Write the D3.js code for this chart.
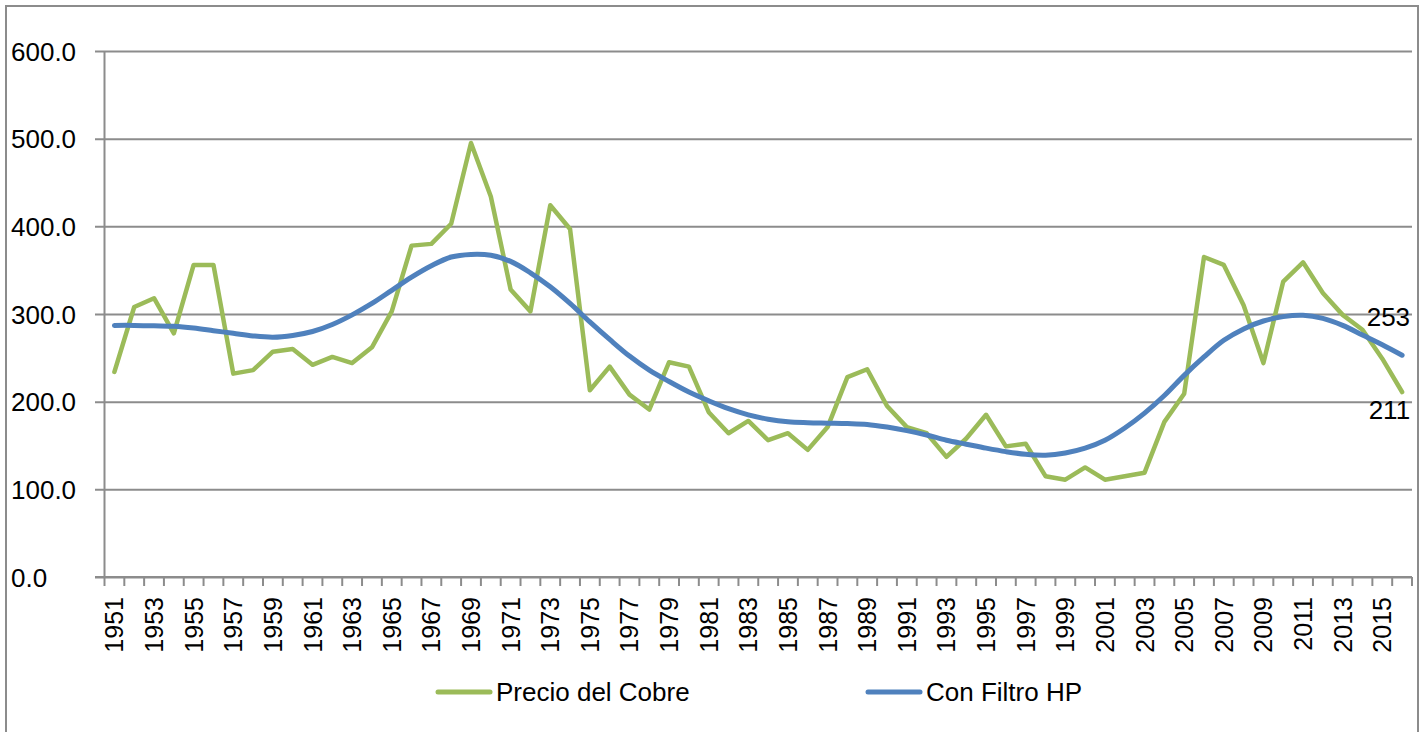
<!DOCTYPE html>
<html>
<head>
<meta charset="utf-8">
<script src="https://cdn.jsdelivr.net/npm/d3@7/dist/d3.min.js"></script>
<style>
  html, body { margin: 0; padding: 0; background: #fff; }
  svg { display: block; }
  text { font-family: "Liberation Sans", Arial, sans-serif; fill: #000; }
</style>
</head>
<body>
<svg id="chart" width="1428" height="732"></svg>
<script>
const years = d3.range(1951, 2017);
const precioCobre = [
  234, 308, 318, 278, 356, 356, 232, 236, 257, 260,
  242, 251, 244, 262, 303, 378, 380, 403, 495, 434,
  328, 303, 424, 397, 213, 240, 208, 191, 245, 240,
  188, 164, 178, 156, 164, 145, 171, 228, 237, 195,
  171, 164, 137, 158, 185, 149, 152, 115, 111, 125,
  111, 115, 119, 177, 209, 365, 356, 310, 244, 337,
  359, 324, 299, 282, 249, 211
];
const filtroHP = [
  287, 287, 286.5, 286, 284, 281, 278, 275, 273.5, 275.5,
  280, 288, 299, 312, 327, 342, 355, 365, 368, 367,
  360, 347, 331, 312, 291, 271, 252, 236, 223, 211,
  201, 192, 185, 180, 177, 176, 175.5, 175, 174, 171,
  167, 162, 156, 151.5, 147, 143, 140, 139, 141.5, 147,
  156, 170, 187, 207, 230, 251, 270, 283, 292, 297,
  298.5, 295, 287, 276, 265, 253
];
const yTicks = [0, 100, 200, 300, 400, 500, 600];
const seriesNames = ["Precio del Cobre", "Con Filtro HP"];
const endLabels = ["253", "211"];

const green = "#9BBB59", blue = "#4F81BD", grid = "#8C8C8C";
const svg = d3.select("#chart");

// outer border
svg.append("rect").attr("x", 6).attr("y", 6).attr("width", 1412).attr("height", 760)
  .attr("fill", "none").attr("stroke", grid).attr("stroke-width", 2);

const x = d3.scaleBand().domain(years).range([104.5, 1412]).padding(0);
const y = d3.scaleLinear().domain([0, 600]).range([577, 51]);
const cx = d => x(d) + x.bandwidth() / 2;

// gridlines + y axis
const yAxis = svg.append("g").attr("transform", "translate(104.5,0)")
  .call(d3.axisLeft(y).tickValues(yTicks).tickFormat(d3.format(".1f")).tickSize(0));
yAxis.select(".domain").remove();
yAxis.selectAll(".tick").append("line")
  .attr("x1", -9.5).attr("x2", 1412 - 104.5)
  .attr("stroke", grid).attr("stroke-width", 2);
yAxis.selectAll(".tick text")
  .attr("x", 11 - 104.5).attr("text-anchor", "start")
  .attr("dy", "0.35em").style("font-size", "26px");

svg.append("line").attr("x1", 104.5).attr("x2", 104.5).attr("y1", 51).attr("y2", 577)
  .attr("stroke", grid).attr("stroke-width", 2);

// x axis
const xAxis = svg.append("g").attr("transform", "translate(0,577)")
  .call(d3.axisBottom(x).tickValues(years.filter((d, i) => i % 2 === 0)).tickSize(0));
xAxis.select(".domain").remove();
xAxis.selectAll(".tick text")
  .attr("transform", "rotate(-90)")
  .attr("x", -20).attr("y", 0).attr("dy", "0.36em")
  .attr("text-anchor", "end").style("font-size", "25px");
svg.append("line").attr("x1", 95).attr("x2", 1412).attr("y1", 577).attr("y2", 577)
  .attr("stroke", grid).attr("stroke-width", 2);
const boundaries = years.map(d => x(d)).concat([x.range()[1]]);
svg.append("g").selectAll("line").data(boundaries).join("line")
  .attr("x1", d => d).attr("x2", d => d).attr("y1", 577).attr("y2", 586)
  .attr("stroke", grid).attr("stroke-width", 2);

// lines
const lineG = d3.line().x((d, i) => cx(years[i])).y(d => y(d));
const lineB = d3.line().x((d, i) => cx(years[i])).y(d => y(d)).curve(d3.curveCatmullRom.alpha(0.5));
svg.append("path").datum(precioCobre).attr("d", lineG)
  .attr("fill", "none").attr("stroke", green).attr("stroke-width", 4.5)
  .attr("stroke-linejoin", "round").attr("stroke-linecap", "round");
svg.append("path").datum(filtroHP).attr("d", lineB)
  .attr("fill", "none").attr("stroke", blue).attr("stroke-width", 5)
  .attr("stroke-linejoin", "round").attr("stroke-linecap", "round");

// end labels
const last = years[years.length - 1];
svg.append("text").attr("x", cx(last) + 8).attr("y", y(filtroHP[filtroHP.length - 1]) - 38)
  .attr("dy", "0.35em").attr("text-anchor", "end").style("font-size", "26px").text(endLabels[0]);
svg.append("text").attr("x", cx(last) + 8).attr("y", y(precioCobre[precioCobre.length - 1]) + 18)
  .attr("dy", "0.35em").attr("text-anchor", "end").style("font-size", "26px").text(endLabels[1]);

// legend
const legend = [
  { name: seriesNames[0], color: green, x0: 438 },
  { name: seriesNames[1], color: blue, x0: 868 }
];
const lg = svg.append("g").selectAll("g").data(legend).join("g");
lg.append("line").attr("x1", d => d.x0).attr("x2", d => d.x0 + 52).attr("y1", 692).attr("y2", 692)
  .attr("stroke", d => d.color).attr("stroke-width", 5).attr("stroke-linecap", "round");
lg.append("text").attr("x", d => d.x0 + 58).attr("y", 692).attr("dy", "0.35em")
  .style("font-size", "26px").text(d => d.name);
</script>
</body>
</html>
